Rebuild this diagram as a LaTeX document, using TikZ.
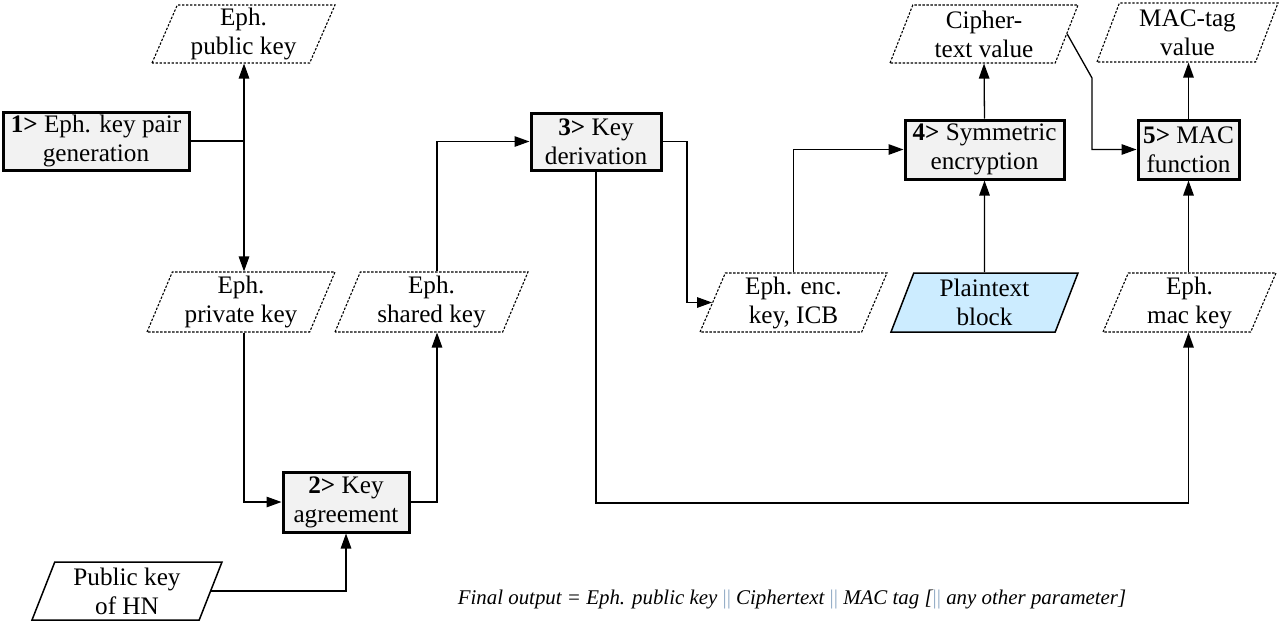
\documentclass[tikz,border=0pt]{standalone}
\usepackage{fontspec}
\setmainfont{Liberation Serif}
\usetikzlibrary{shapes.geometric,arrows.meta}
\definecolor{boxfill}{HTML}{F2F2F2}
\definecolor{plainfill}{HTML}{CCECFF}
\definecolor{sepcol}{HTML}{8FA9C4}
\begin{document}
\begin{tikzpicture}[x=1pt,y=-1pt,
  every node/.style={font=\fontsize{25.2}{29}\selectfont, align=center, inner sep=0pt},
  stepbox/.style={draw, line width=3pt, fill=boxfill, minimum height=58pt},
  para/.style={shape=trapezium, trapezium left angle=64, trapezium right angle=116,
     trapezium stretches body, minimum width=#1, minimum height=58pt},
  datapara/.style={para=#1, draw, line width=1.1pt, dash pattern=on 2.4pt off 1.6pt},
  inpara/.style={para=#1, draw, line width=1.5pt},
  arr/.style={line width=1.3pt, -{Triangle[length=15pt,width=10.5pt]}},
  ln/.style={line width=1.3pt}]
\useasboundingbox (0,0) rectangle (1283,624);

% step boxes
\node[stepbox, minimum width=186pt] (k1) at (96,141) {\textbf{1>} Eph. key pair\\generation};
\node[stepbox, minimum width=126pt, minimum height=60pt] (k2) at (346,502) {\textbf{2>} Key\\agreement};
\node[stepbox, minimum width=130pt, minimum height=57pt] (k3) at (596,141.5) {\textbf{3>} Key\\derivation};
\node[stepbox, minimum width=159pt, minimum height=59pt] (k4) at (984.5,149.5) {\textbf{4>} Symmetric\\encryption};
\node[stepbox, minimum width=101pt, minimum height=59pt] (k5) at (1188.5,149.5) {\textbf{5>} MAC\\function};

% data parallelograms
\node[datapara=183pt] (pub) at (243.5,34) {Eph.\\public key};
\node[datapara=188pt, minimum height=60pt] (priv) at (241,302) {Eph.\\private key};
\node[datapara=193pt, minimum height=60pt] (shared) at (431.5,302) {Eph.\\shared key};
\node[datapara=187pt, minimum height=59pt] (enc) at (793.5,302.5) {Eph. enc.\\key, ICB};
\node[inpara=187pt, minimum height=59pt, fill=plainfill] (plain) at (984.5,302.5) {Plaintext\\block};
\node[datapara=173pt, minimum height=59pt] (mackey) at (1189.5,302.5) {Eph.\\mac key};
\node[datapara=188pt] (cipher) at (984,34) {Cipher-\\text value};
\node[datapara=181pt, minimum height=59pt] (tag) at (1187.5,32.5) {MAC-tag\\value};
\node[inpara=190pt] (hn) at (127,591) {Public key\\of HN};

% helper coordinates
\coordinate (xa) at (244,0);
\coordinate (xb) at (437,0);
\coordinate (xc) at (687,0);
\coordinate (xe) at (1092,78);
\coordinate (yb) at (0,503);

% connectors
\draw[ln] (k1.east) -- (k1.east -| xa);
\draw[arr] (k1.east -| xa) -- (xa |- pub.south);
\draw[arr] (k1.east -| xa) -- (xa |- priv.north);
\draw[arr] (xa |- priv.south) |- (k2.west);
\draw[arr] (k2.east) -| (xb |- shared.south);
\draw[arr] (xb |- shared.north) |- (k3.west);
\draw[arr] (k3.east) -| (xc |- enc.west) -- (enc.west);
\draw[arr] (enc.north) |- (k4.west);
\draw[arr] (k4.north) -- (cipher.south);
\draw[arr] (plain.north) -- (k4.south);
\draw[arr] (cipher.east) -- (xe) |- (k5.west);
\draw[arr] (k5.north) -- (k5.north |- tag.south);
\draw[arr] (k5.south |- mackey.north) -- (k5.south);
\draw[arr] (k3.south) -- (k3.south |- yb) -| (k5.south |- mackey.south);
\draw[arr] (hn.east) -| (k2.south);

% footer
\node[font=\fontsize{20.9}{23}\selectfont\itshape] (foot) at (792,599)
  {Final output = Eph. public key {\upshape\color{sepcol}||} Ciphertext {\upshape\color{sepcol}||} MAC tag [{\upshape\color{sepcol}||} any other parameter]};
\end{tikzpicture}
\end{document}
